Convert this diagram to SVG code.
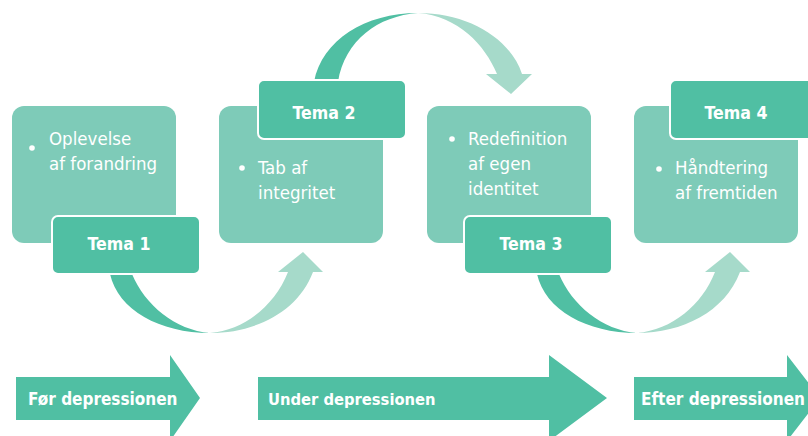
<svg xmlns="http://www.w3.org/2000/svg" width="808" height="436" viewBox="0 0 808 436">
<defs>
<style>
.box{fill:#7ECBB8}
.tema{fill:#50BFA3;stroke:#FFFFFF;stroke-width:2}
.dark{fill:#50BFA3}
.light{fill:#A6DACA}
.txt{font-family:"DejaVu Sans Condensed","DejaVu Sans",sans-serif;font-stretch:condensed;font-size:18.5px;fill:#FFFFFF}
.bold{font-family:"DejaVu Sans Condensed","DejaVu Sans",sans-serif;font-stretch:condensed;font-size:17px;font-weight:bold;fill:#FFFFFF}
.tl{font-size:17.6px;text-anchor:middle}
.bul{fill:#FFFFFF}
</style>
</defs>
<rect width="808" height="436" fill="#FFFFFF"/>
<g id="connectors">
<path class="dark" d="M110,262 L110,274 C118,310 160,333 210,333 C175,330 145,305 132,274 L132,262 Z"/>
<path class="light" d="M210,333 C255,333 298,312 313,272 L323,272 L303,252 L278,272 L288,272 C275,305 245,330 210,333 Z"/>
<path class="dark" d="M537,262 L537,274 C545,310 587,333 637,333 C602,330 572,305 559,274 L559,262 Z"/>
<path class="light" d="M637,333 C682,333 725,312 740,272 L750,272 L730,252 L705,272 L715,272 C702,305 672,330 637,333 Z"/>
<path class="dark" d="M314,90 L314,82 C322,40 365,13 418,13 C378,16 345,40 338,82 L338,90 Z"/>
<path class="light" d="M418,13 C468,13 510,38 522,74 L532,74 L511,94 L486,74 L497,74 C485,45 458,16 418,13 Z"/>
</g>
<g id="node1">
<rect class="box" x="12" y="106" width="164" height="137" rx="12"/>
<circle class="bul" cx="32" cy="148" r="2.8"/>
<text class="txt" x="49" y="145">Oplevelse</text>
<text class="txt" x="49" y="170">af forandring</text>
<rect class="tema" x="52" y="216" width="148" height="58" rx="6"/>
<text class="bold tl" x="119" y="250">Tema 1</text>
</g>
<g id="node2">
<rect class="box" x="219" y="106" width="164" height="137" rx="12"/>
<circle class="bul" cx="242" cy="168" r="2.8"/>
<text class="txt" x="258" y="174">Tab af</text>
<text class="txt" x="258" y="199">integritet</text>
<rect class="tema" x="258" y="80" width="148" height="59" rx="6"/>
<text class="bold tl" x="324" y="119">Tema 2</text>
</g>
<g id="node3">
<rect class="box" x="427" y="106" width="164" height="137" rx="12"/>
<circle class="bul" cx="452" cy="139" r="2.8"/>
<text class="txt" x="468" y="145">Redefinition</text>
<text class="txt" x="468" y="170">af egen</text>
<text class="txt" x="468" y="195">identitet</text>
<rect class="tema" x="464" y="216" width="148" height="58" rx="6"/>
<text class="bold tl" x="531" y="250">Tema 3</text>
</g>
<g id="node4">
<rect class="box" x="634" y="106" width="164" height="137" rx="12"/>
<circle class="bul" cx="659" cy="169" r="2.8"/>
<text class="txt" x="675" y="174">Håndtering</text>
<text class="txt" x="675" y="199">af fremtiden</text>
<rect class="tema" x="670" y="80" width="150" height="59" rx="6"/>
<text class="bold tl" x="736" y="119">Tema 4</text>
</g>
<g id="phase1">
<path class="dark" d="M16,377 L170,377 L170,355 L200,398 L170,441 L170,420 L16,420 Z"/>
<text class="bold" x="28" y="405">Før depressionen</text>
</g>
<g id="phase2">
<path class="dark" d="M258,377 L549,377 L549,355 L607,398 L549,441 L549,420 L258,420 Z"/>
<text class="bold" x="268" y="405" style="font-size:16.4px">Under depressionen</text>
</g>
<g id="phase3">
<path class="dark" d="M634,377 L787,377 L787,355 L820,398 L787,441 L787,420 L634,420 Z"/>
<text class="bold" x="641" y="405">Efter depressionen</text>
</g>
</svg>
